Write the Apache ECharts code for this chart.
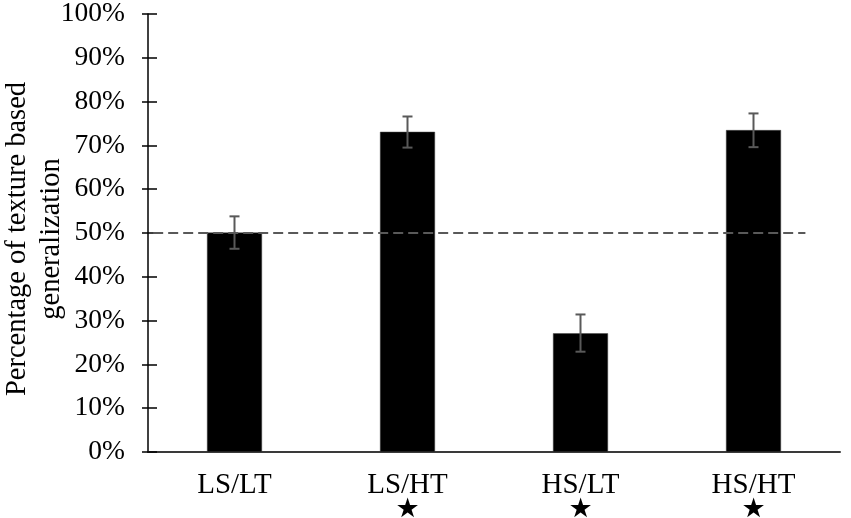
<!DOCTYPE html>
<html>
<head>
<meta charset="utf-8">
<script src="https://cdn.jsdelivr.net/npm/echarts@6/dist/echarts.min.js"></script>
<style>
html,body{margin:0;padding:0;background:#fff;}
#chart{width:851px;height:518px;}
</style>
</head>
<body>
<div id="chart"></div>
<script>
const categories = ['LS/LT', 'LS/HT', 'HS/LT', 'HS/HT'];
const significant = [false, true, true, true];
const values = [50.1, 73.1, 27.1, 73.5];
const errLow = [46.4, 69.5, 22.9, 69.6];
const errHigh = [53.8, 76.6, 31.4, 77.3];
const yTicks = [0, 10, 20, 30, 40, 50, 60, 70, 80, 90, 100];
const chanceLevel = 50;
const chanceSpan = [0.03, 3.8];

const font = 'Liberation Serif, Times New Roman, serif';
const chart = echarts.init(document.getElementById('chart'), null, {renderer: 'canvas'});

const errData = categories.map((c, i) => [i, errLow[i], errHigh[i]]);
const refData = chanceSpan.map(x => [x, chanceLevel]);

chart.setOption({
  animation: false,
  grid: {left: 148, right: 11, top: 14, bottom: 66, containLabel: false, outerBoundsMode: 'none'},
  xAxis: [{
    type: 'category',
    data: categories,
    axisLine: {lineStyle: {color: '#3a3a3a', width: 2}},
    axisTick: {show: false},
    axisLabel: {
      margin: 18,
      formatter: function (v, i) {
        return significant[i] ? '{a|' + v + '}\n{s|★}' : '{a|' + v + '}';
      },
      rich: {
        a: {fontFamily: font, fontSize: 29, color: '#000', lineHeight: 31},
        s: {fontFamily: 'DejaVu Sans', fontSize: 27, color: '#000', lineHeight: 18}
      }
    }
  }, {
    type: 'value', min: 0, max: 4, show: false
  }],
  yAxis: [{
    type: 'value',
    min: 0, max: 100, interval: 10,
    name: 'Percentage of texture based\ngeneralization',
    nameLocation: 'middle',
    nameGap: 79,
    nameMoveOverlap: false,
    nameTextStyle: {fontFamily: font, fontSize: 28.5, color: '#000', lineHeight: 34, padding: [0, 12, 0, 0]},
    axisLine: {show: true, lineStyle: {color: '#000', width: 1.5}},
    axisTick: {show: true, length: 6, lineStyle: {color: '#000', width: 1.5}},
    splitLine: {show: false},
    axisLabel: {
      margin: 23,
      fontFamily: font, fontSize: 27.5, color: '#000',
      formatter: v => v + '%'
    }
  }, {
    type: 'value',
    min: 0, max: 100, interval: 10,
    position: 'left',
    axisLine: {show: false},
    axisTick: {show: true, inside: true, length: 9, lineStyle: {color: '#000', width: 1.5}},
    axisLabel: {show: false},
    splitLine: {show: false}
  }],
  series: [{
    type: 'bar',
    data: values,
    barWidth: 55,
    itemStyle: {color: '#000', borderColor: '#444', borderWidth: 0.5},
    z: 2
  }, {
    type: 'line',
    xAxisIndex: 1,
    data: refData,
    symbol: 'none',
    lineStyle: {color: '#595959', width: 2, type: [10, 5]},
    z: 3
  }, {
    type: 'custom',
    data: errData,
    z: 4,
    renderItem: function (params, api) {
      const x = api.value(0);
      const lo = api.coord([x, api.value(1)]);
      const hi = api.coord([x, api.value(2)]);
      const hw = 5;
      const st = {stroke: '#595959', lineWidth: 2};
      return {
        type: 'group',
        children: [
          {type: 'line', shape: {x1: lo[0], y1: lo[1], x2: hi[0], y2: hi[1]}, style: st},
          {type: 'line', shape: {x1: lo[0] - hw, y1: lo[1], x2: lo[0] + hw, y2: lo[1]}, style: st},
          {type: 'line', shape: {x1: hi[0] - hw, y1: hi[1], x2: hi[0] + hw, y2: hi[1]}, style: st}
        ]
      };
    }
  }]
});
</script>
</body>
</html>
